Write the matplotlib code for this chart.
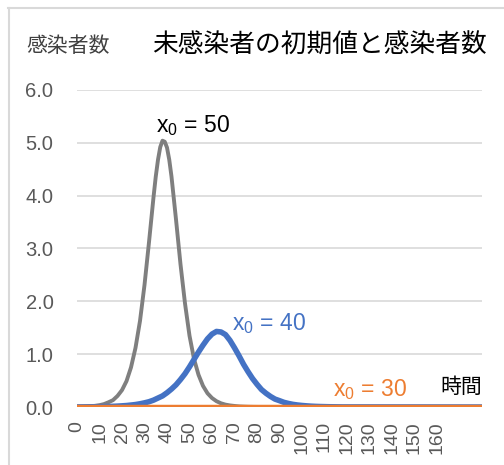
import matplotlib
matplotlib.use("Agg")
import matplotlib.pyplot as plt
from matplotlib.lines import Line2D

plt.rcParams['font.family'] = ['Liberation Sans', 'Noto Sans CJK JP', 'DejaVu Sans']
plt.rcParams['mathtext.fontset'] = 'custom'
plt.rcParams['mathtext.rm'] = 'Liberation Sans'

# x0 = 50 (gray)
t50 = [0, 2, 4, 6, 8, 10, 12, 14, 16, 18, 20, 22, 24, 26, 28, 30, 32, 34, 35, 36,
       37, 38, 39, 40, 41, 42, 44, 46, 48, 50, 52, 54, 56, 58, 60, 62, 64, 66, 68,
       70, 72, 74, 76, 78, 80, 180]
i50 = [0.004, 0.006, 0.009, 0.014, 0.022, 0.035, 0.055, 0.09, 0.13, 0.21, 0.32,
       0.49, 0.75, 1.12, 1.63, 2.31, 3.12, 3.97, 4.36, 4.68, 4.92, 5.04, 5.02,
       4.91, 4.68, 4.36, 3.55, 2.70, 1.96, 1.35, 0.91, 0.61, 0.40, 0.26, 0.17,
       0.11, 0.07, 0.045, 0.03, 0.02, 0.012, 0.008, 0.005, 0.003, 0.002, 0.0]

# x0 = 40 (blue)
t40 = [0, 2, 4, 6, 8, 10, 12, 14, 16, 18, 20, 22, 24, 26, 28, 30, 32, 34, 36, 38,
       40, 42, 44, 46, 48, 50, 52, 54, 56, 58, 60, 62, 64, 66, 68, 70, 72, 74, 76,
       78, 80, 82, 84, 86, 88, 90, 92, 94, 96, 98, 100, 102, 104, 106, 108, 110,
       112, 114, 116, 118, 180]
i40 = [0.002, 0.002, 0.003, 0.004, 0.005, 0.006, 0.008, 0.010, 0.013,
       0.017, 0.022, 0.028, 0.037, 0.047, 0.061, 0.079, 0.10, 0.13, 0.17, 0.21,
       0.27, 0.34, 0.42, 0.52, 0.63, 0.76, 0.90, 1.04, 1.17, 1.29, 1.38, 1.43,
       1.42, 1.37, 1.26, 1.12, 0.97, 0.81, 0.67, 0.54, 0.43, 0.33, 0.26, 0.20,
       0.15, 0.12, 0.088, 0.067, 0.05, 0.038, 0.029, 0.022, 0.016, 0.012, 0.009,
       0.007, 0.005, 0.004, 0.003, 0.002, 0.0]

# x0 = 30 (orange) - stays at zero
t30 = [0, 180]
i30 = [0.0, 0.0]

xticks = list(range(0, 170, 10))
yticks = [0, 1, 2, 3, 4, 5, 6]

fig = plt.figure(figsize=(5.04, 4.65), dpi=100)
ax = fig.add_axes([0.1528, 0.1247, 0.8035, 0.6818])

ax.plot(t50, i50, color='#7F7F7F', lw=2.8, solid_capstyle='round', zorder=3)
ax.plot(t40, i40, color='#4472C4', lw=4.0, solid_capstyle='round', zorder=4)
ax.plot(t30, i30, color='#ED7D31', lw=3.2, zorder=5)

ax.set_xlim(0, 180)
ax.set_ylim(0, 6)
ax.set_xticks(xticks)
ax.set_xticklabels([str(v) for v in xticks], rotation=90, fontsize=14, color='#595959')
ax.set_yticks(yticks)
ax.set_yticklabels(['%.1f' % v for v in yticks], fontsize=14.5, color='#595959')
ax.tick_params(axis='both', length=0)
ax.tick_params(axis='y', pad=17)
ax.tick_params(axis='x', pad=10)
ax.grid(axis='y', color='#D9D9D9', lw=1.2)
ax.set_axisbelow(True)
for s in ax.spines.values():
    s.set_visible(False)

ax.text(35.3, 5.21, r'$\mathregular{x_0}$ = 50', fontsize=16.5, color='black',
        ha='left', va='baseline')
ax.text(69, 1.46, r'$\mathregular{x_0}$ = 40', fontsize=16.5, color='#4472C4',
        ha='left', va='baseline')
ax.text(113.8, 0.21, r'$\mathregular{x_0}$ = 30', fontsize=16.5, color='#ED7D31',
        ha='left', va='baseline')
ax.text(180, 0.26, '時間', fontsize=15, color='black', ha='right', va='baseline')

fig.text(68.5 / 504, 1 - 46 / 465, '感染者数', fontsize=15, color='#404040',
         ha='center', va='center')
fig.text(319.5 / 504, 1 - 46 / 465, '未感染者の初期値と感染者数', fontsize=18.5,
         color='black', ha='center', va='center')

# chart frame
fig.add_artist(Line2D([8 / 504, 1.0], [1 - 8 / 465] * 2, transform=fig.transFigure,
                      color='#D9D9D9', lw=1.5))
fig.add_artist(Line2D([9 / 504] * 2, [0.0, 1 - 8 / 465], transform=fig.transFigure,
                      color='#D9D9D9', lw=1.5))

fig.savefig('out.png', dpi=100)
